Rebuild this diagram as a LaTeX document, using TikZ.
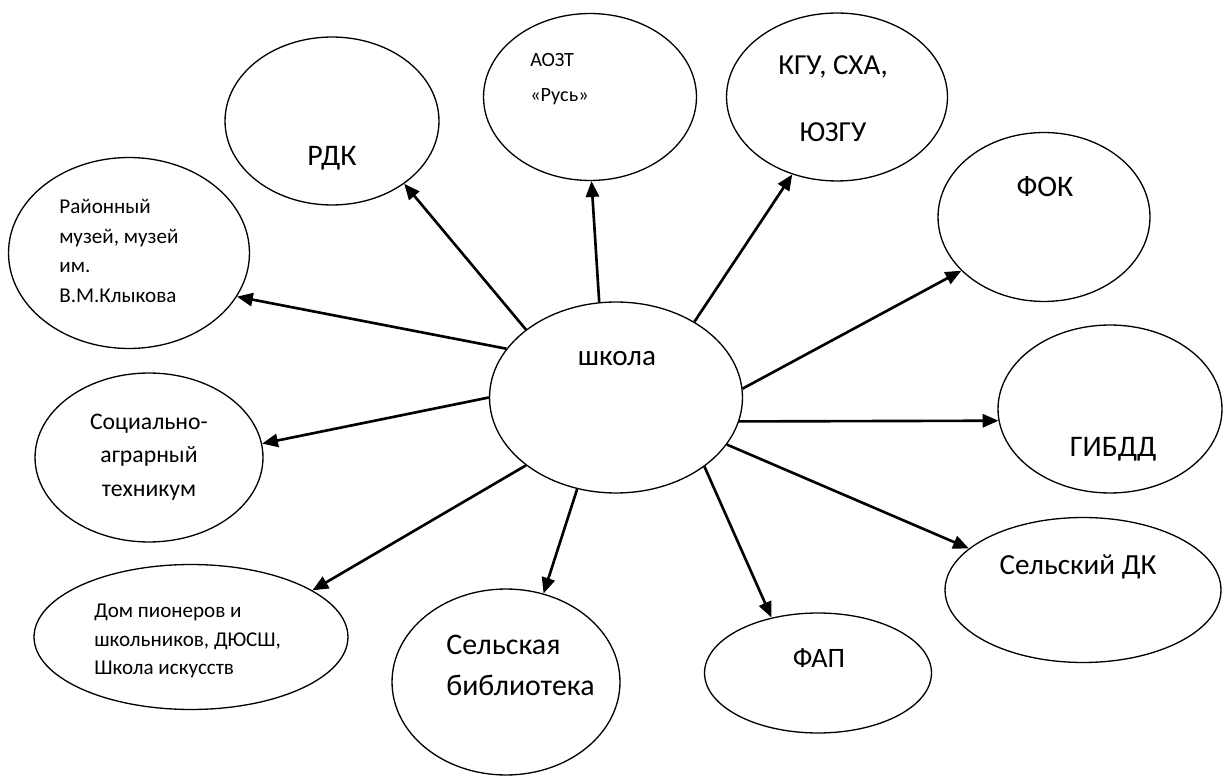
\documentclass[tikz,border=0pt]{standalone}
\usepackage{fontspec}
\setmainfont{Carlito}
\usetikzlibrary{shapes.geometric,arrows.meta}
\begin{document}
\begin{tikzpicture}[>={Triangle[length=9pt,width=7.5pt]},x=0.02cm,y=0.02cm,
		org/.style={draw,ellipse,line width=0.75pt,inner sep=0pt},
		link/.style={->,line width=1.5pt}]
		\useasboundingbox (0,0) rectangle (1223,778);
		% ellipses
		\node[org,minimum width=5.06cm,minimum height=3.82cm] (school) at (616,380.5) {};
		\node[org,minimum width=4.28cm,minimum height=3.36cm] (rdk) at (332,657) {};
		\node[org,minimum width=4.26cm,minimum height=3.34cm] (aozt) at (590,681) {};
		\node[org,minimum width=4.42cm,minimum height=3.36cm] (kgu) at (837,681) {};
		\node[org,minimum width=4.24cm,minimum height=3.38cm] (fok) at (1044,561) {};
		\node[org,minimum width=4.48cm,minimum height=3.36cm] (gibdd) at (1110,369) {};
		\node[org,minimum width=5.52cm,minimum height=2.9cm] (sdk) at (1083,188) {};
		\node[org,minimum width=4.54cm,minimum height=2.4cm] (fap) at (818,105) {};
		\node[org,minimum width=4.56cm,minimum height=3.72cm] (lib) at (506,96) {};
		\node[org,minimum width=6.28cm,minimum height=2.9cm] (dom) at (191,141) {};
		\node[org,minimum width=4.56cm,minimum height=3.38cm] (tech) at (149,320.5) {};
		\node[org,minimum width=4.82cm,minimum height=3.82cm] (museum) at (129,525) {};
		% texts
		\node[font=\fontsize{16.6}{19}\selectfont] (tschool) at (617,419) {школа};
		\node[font=\fontsize{17}{19}\selectfont] (trdk) at (332,620) {РДК};
		\node[font=\fontsize{11.5}{20}\selectfont,align=left,anchor=west,inner sep=0pt] (taozt) at (530,698.5) {АОЗТ\\«Русь»};
		\node[font=\fontsize{16.5}{38}\selectfont,align=center] (tkgu) at (833,679.5) {КГУ, СХА,\\ЮЗГУ};
		\node[font=\fontsize{17}{19}\selectfont] (tfok) at (1045,591) {ФОК};
		\node[font=\fontsize{17}{19}\selectfont] (tgibdd) at (1113,329) {ГИБДД};
		\node[font=\fontsize{16.6}{19}\selectfont] (tsdk) at (1078,211) {Сельский ДК};
		\node[font=\fontsize{16}{19}\selectfont] (tfap) at (819,120) {ФАП};
		\node[font=\fontsize{17}{23.5}\selectfont,align=left,anchor=west,inner sep=0pt] (tlib) at (446,112.5) {Сельская\\библиотека};
		\node[font=\fontsize{12}{16.4}\selectfont,align=left,anchor=west,inner sep=0pt] (tdom) at (94,137) {Дом пионеров и\\школьников, ДЮСШ,\\Школа искусств};
		\node[font=\fontsize{13.5}{19}\selectfont,align=center] (ttech) at (149,321) {Социально-\\аграрный\\техникум};
		\node[font=\fontsize{12}{17}\selectfont,align=left,anchor=west,inner sep=0pt] (tmuseum) at (59,527) {Районный\\музей, музей\\им.\\В.М.Клыкова};
		% arrows
		\draw[link] (school.143) -- (rdk.-41.5);
		\draw[link] (school.156) -- (museum.-22);
		\draw[link] (school.100.7) -- (aozt.-89);
		\draw[link] (school.44.6) -- (kgu.-120.5);
		\draw[link] (school.4.6) -- (fok.213.4);
		\draw[link] (school.-11.5) -- (gibdd.186);
		\draw[link] (school.-23) -- (sdk.160.3);
		\draw[link] (school.-38.6) -- (fap.130.4);
		\draw[link] (school.-113) -- (lib.67);
		\draw[link] (school.217.5) -- (dom.21);
		\draw[link] (school.180) -- (tech.7);
		
		\end{tikzpicture}
\end{document}
